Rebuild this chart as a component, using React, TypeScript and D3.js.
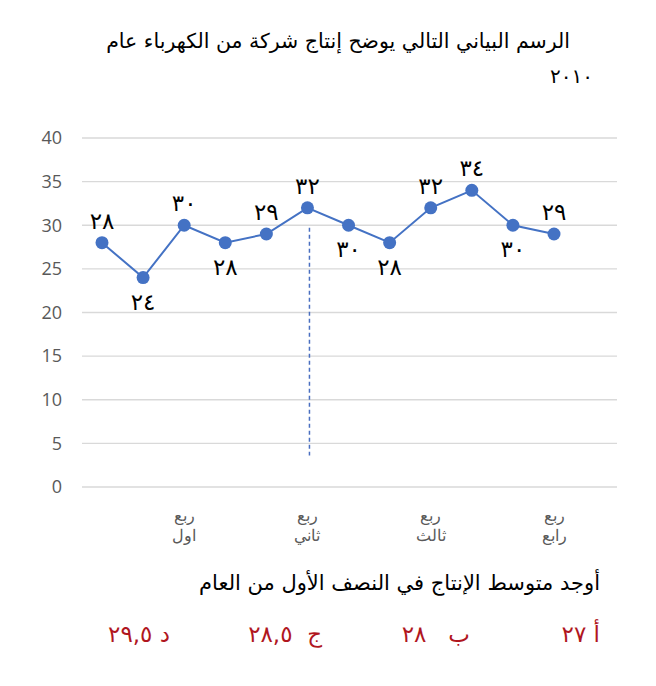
import React, { useEffect, useRef } from "react";
import * as d3 from "d3";

// months of the year (index only, quarters labelled below)
const months = [1, 2, 3, 4, 5, 6, 7, 8, 9, 10, 11, 12];
const production = [28, 24, 30, 28, 29, 32, 30, 28, 32, 34, 30, 29];
const valueLabels = ["٢٨", "٢٤", "٣٠", "٢٨", "٢٩", "٣٢", "٣٠", "٢٨", "٣٢", "٣٤", "٣٠", "٢٩"];
const labelSide = ["up", "down", "up", "down", "up", "up", "down", "down", "up", "up", "down", "up"];
const yTicks = [0, 5, 10, 15, 20, 25, 30, 35, 40];
const quarterMonths = [3, 6, 9, 12];
const quarterLabels = [["ربع", "اول"], ["ربع", "ثاني"], ["ربع", "ثالث"], ["ربع", "رابع"]];
const titleLines = ["الرسم البياني التالي يوضح إنتاج شركة من الكهرباء عام", "٢٠١٠"];
const question = "أوجد متوسط الإنتاج في النصف الأول من العام";
const answers = ["أ ٢٧", "ب\u00a0\u00a0 ٢٨", "ج\u00a0 ٢٨,٥", "د ٢٩,٥"];

const W = 656, H = 686;
const arabicFont = "'DejaVu Sans', 'Noto Sans', sans-serif";

export default function App() {
  const ref = useRef<SVGSVGElement>(null);

  useEffect(() => {
    const svg = d3.select(ref.current);
    svg.selectAll("*").remove();

    const x = d3.scalePoint<number>().domain(months).range([102, 554]);
    const y = d3.scaleLinear().domain([0, 40]).range([487, 138]);
    const gridLeft = 82, gridRight = 617;

    // rtl text: anchor "start" = right edge
    const rtlText = (xr: number, yy: number, size: number, fill: string, t: string) =>
      svg.append("text")
        .attr("x", xr).attr("y", yy)
        .attr("text-anchor", "start")
        .attr("direction", "rtl")
        .attr("font-family", arabicFont)
        .attr("font-size", size)
        .attr("fill", fill)
        .text(t);

    // title
    rtlText(570, 48, 20.5, "#000", titleLines[0]);
    svg.append("text")
      .attr("x", 550).attr("y", 83)
      .attr("font-family", arabicFont)
      .attr("font-size", 20)
      .attr("fill", "#000")
      .text(titleLines[1]);

    // grid + y axis labels
    const grid = svg.append("g");
    grid.selectAll("line")
      .data(yTicks)
      .enter()
      .append("line")
        .attr("x1", gridLeft).attr("x2", gridRight)
        .attr("y1", (d) => y(d)).attr("y2", (d) => y(d))
        .attr("stroke", "#d9d9d9")
        .attr("stroke-width", 1.3);
    grid.selectAll("text")
      .data(yTicks)
      .enter()
      .append("text")
        .attr("x", 62).attr("y", (d) => y(d))
        .attr("dy", "0.35em")
        .attr("text-anchor", "end")
        .attr("font-family", "'Open Sans', sans-serif")
        .attr("font-size", 18)
        .attr("fill", "#595959")
        .text((d) => d);

    // x labels (quarters)
    const xl = svg.append("g");
    quarterMonths.forEach((m, i) => {
      quarterLabels[i].forEach((t, j) => {
        xl.append("text")
          .attr("x", x(m)!).attr("y", 521 + j * 20)
          .attr("text-anchor", "middle")
          .attr("direction", "rtl")
          .attr("font-family", "'Liberation Sans', Arial, sans-serif")
          .attr("font-size", 16)
          .attr("fill", "#595959")
          .text(t);
      });
    });

    // dashed line under half-year point
    svg.append("line")
      .attr("x1", x(6)! + 2).attr("x2", x(6)! + 2)
      .attr("y1", y(29.7)).attr("y2", y(3.6))
      .attr("stroke", "#4a6fc0")
      .attr("stroke-width", 1.5)
      .attr("stroke-dasharray", "4,3");

    // line
    const line = d3.line<number>()
      .x((d, i) => x(months[i])!)
      .y((d) => y(d));
    svg.append("path")
      .datum(production)
      .attr("d", line)
      .attr("fill", "none")
      .attr("stroke", "#4472c4")
      .attr("stroke-width", 2);

    svg.append("g")
      .selectAll("circle")
      .data(production)
      .enter()
      .append("circle")
        .attr("cx", (d, i) => x(months[i])!)
        .attr("cy", (d) => y(d))
        .attr("r", 6.5)
        .attr("fill", "#4472c4");

    // value labels
    svg.append("g")
      .selectAll("text")
      .data(production)
      .enter()
      .append("text")
        .attr("x", (d, i) => x(months[i])!)
        .attr("y", (d, i) => y(d) + (labelSide[i] === "up" ? -14 : 32))
        .attr("text-anchor", "middle")
        .attr("font-family", arabicFont)
        .attr("font-size", 23)
        .attr("fill", "#000")
        .text((d, i) => valueLabels[i]);

    // question
    rtlText(600, 590, 21, "#000", question);

    // answers
    const ansRight = [600, 470, 322, 170];
    answers.forEach((a, i) => rtlText(ansRight[i], 642, 23, "#b0161e", a));
  }, []);

  return (
    <svg ref={ref} width={W} height={H}
      style={{ position: "absolute", left: 0, top: 0, background: "#fff" }} />
  );
}
